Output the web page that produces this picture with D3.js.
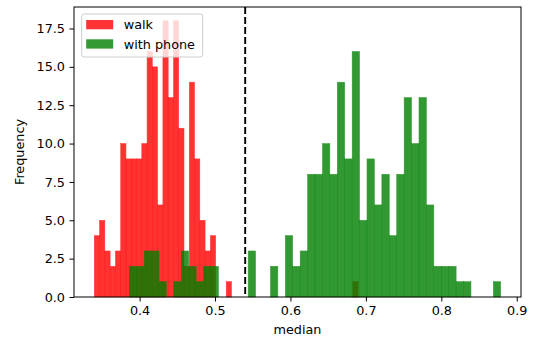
<!DOCTYPE html>
<html>
<head>
<meta charset="utf-8">
<script src="https://d3js.org/d3.v7.min.js"></script>
<style>
  body { margin: 0; background: #fff; }
  text { font-family: "DejaVu Sans", sans-serif; fill: #000; }
</style>
</head>
<body>
<div id="chart"></div>
<script>
// histogram counts, 50 bins each
var walkCounts = [4,5,3,2,3,10,9,9,9,10,16,15,6,18,13,18,11,2,14,9,5,3,4,0,0,1,
  0,0,0,0,0,0,0,0,0,0,0,0,0,0,0,0,0,0,0,0,0,0,0,1];
var phoneCounts = [2,2,3,3,1,0,1,3,2,1,2,2,0,0,0,0,3,0,0,2,0,4,2,3,8,8,10,8,14,9,
  16,5,9,6,8,4,8,13,10,13,6,2,2,2,1,1,0,0,0,1];
// data range of each series
var walkRange = [0.3400, 0.6897];
var phoneRange = [0.3864, 0.8787];
var threshold = 0.54;
var xTicks = [0.4, 0.5, 0.6, 0.7, 0.8, 0.9];
var yTicks = [0, 2.5, 5, 7.5, 10, 12.5, 15, 17.5];
var seriesNames = ['walk', 'with phone'];
var seriesColors = ['red', 'green'];

var svgWidth = 534,
  svgHeight = 340;
var margin = { t: 7, r: 13, b: 43, l: 74 };
var width = svgWidth - margin.l - margin.r,
  height = svgHeight - margin.t - margin.b;

var svg = d3.select('#chart').append('svg')
  .attr('width', svgWidth)
  .attr('height', svgHeight);

var chartGroup = svg.append('g')
  .attr('transform', `translate(${margin.l},${margin.t})`);

// matplotlib style 5% padding on x
var xMin = Math.min(walkRange[0], phoneRange[0]),
  xMax = Math.max(walkRange[1], phoneRange[1]),
  pad = (xMax - xMin) * 0.05;
var yMax = d3.max(walkCounts.concat(phoneCounts)) * 1.05;

var xScale = d3.scaleLinear().domain([xMin - pad, xMax + pad]).range([0, width]);
var yScale = d3.scaleLinear().domain([0, yMax]).range([height, 0]);

function makeBins(counts, range) {
  var w = (range[1] - range[0]) / counts.length;
  return counts.map((c, i) => ({ x0: range[0] + i * w, x1: range[0] + (i + 1) * w, n: c }));
}

function drawHist(bins, color) {
  chartGroup.append('g').selectAll('rect')
    .data(bins.filter(d => d.n > 0))
    .enter()
    .append('rect')
    .attr('x', d => xScale(d.x0))
    .attr('width', d => xScale(d.x1) - xScale(d.x0))
    .attr('y', d => yScale(d.n))
    .attr('height', d => yScale(0) - yScale(d.n))
    .attr('fill', color)
    .attr('stroke', color)
    .attr('stroke-width', 0.5)
    .attr('opacity', 0.8);
}

drawHist(makeBins(walkCounts, walkRange), seriesColors[0]);
drawHist(makeBins(phoneCounts, phoneRange), seriesColors[1]);

// dashed threshold line
chartGroup.append('line')
  .attr('x1', xScale(threshold)).attr('x2', xScale(threshold))
  .attr('y1', 0).attr('y2', height)
  .attr('stroke', '#000')
  .attr('stroke-width', 1.9)
  .attr('stroke-dasharray', '7,3');

// axes
var xAxis = chartGroup.append('g')
  .attr('transform', `translate(0,${height})`)
  .call(d3.axisBottom(xScale).tickValues(xTicks).tickFormat(d3.format('.1f')).tickSizeOuter(0).tickSize(4.5).tickPadding(4.5));
var yAxis = chartGroup.append('g')
  .call(d3.axisLeft(yScale).tickValues(yTicks).tickFormat(d3.format('.1f')).tickSizeOuter(0).tickSize(4.5).tickPadding(4.5));
[xAxis, yAxis].forEach(a => {
  a.select('.domain').remove();
  a.selectAll('line').attr('stroke', '#000').attr('stroke-width', 1);
  a.selectAll('text').attr('font-size', '12.8px').attr('font-family', '"DejaVu Sans", sans-serif').attr('fill', '#000');
});

// spines
chartGroup.append('rect')
  .attr('x', 0).attr('y', 0)
  .attr('width', width).attr('height', height)
  .attr('fill', 'none')
  .attr('stroke', '#000')
  .attr('stroke-width', 1);

// axis labels
chartGroup.append('text')
  .attr('x', width / 2)
  .attr('y', height + 37)
  .attr('text-anchor', 'middle')
  .attr('font-size', '12.8px')
  .text('median');
chartGroup.append('text')
  .attr('transform', `translate(${-50},${height / 2})rotate(-90)`)
  .attr('text-anchor', 'middle')
  .attr('font-size', '12.8px')
  .text('Frequency');

// legend
var legend = chartGroup.append('g').attr('transform', 'translate(7.7,7)');
legend.append('rect')
  .attr('width', 121).attr('height', 43)
  .attr('rx', 2.5)
  .attr('fill', '#fff').attr('fill-opacity', 0.8)
  .attr('stroke', '#cccccc').attr('stroke-width', 1);
seriesNames.forEach((name, i) => {
  var row = legend.append('g').attr('transform', `translate(0,${6 + i * 19.3})`);
  row.append('rect')
    .attr('x', 4.5).attr('y', 0)
    .attr('width', 27).attr('height', 9.3)
    .attr('fill', seriesColors[i]).attr('opacity', 0.8);
  row.append('text')
    .attr('x', 42).attr('y', 4.7)
    .attr('dy', '0.36em')
    .attr('font-size', '12.8px')
    .text(name);
});
</script>
</body>
</html>
